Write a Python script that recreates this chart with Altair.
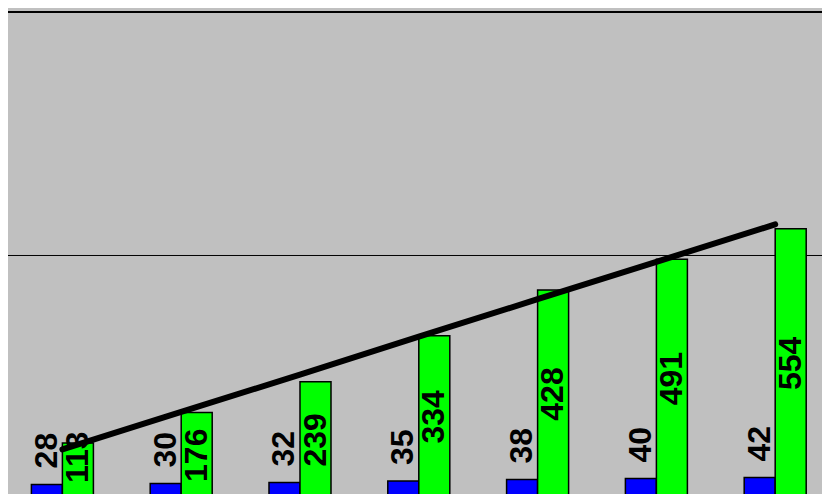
import altair as alt
import pandas as pd

categories = ["1", "2", "3", "4", "5", "6", "7"]
series_names = ["Series A", "Series B"]
series_a = [28, 30, 32, 35, 38, 40, 42]
series_b = [113, 176, 239, 334, 428, 491, 554]
trend = [100, 177, 254, 332, 409, 486, 563]
bar_colors = ["#0000ff", "#00ff00"]

rows = []
for c, a, b in zip(categories, series_a, series_b):
    rows.append({"cat": c, "series": series_names[0], "value": a})
    rows.append({"cat": c, "series": series_names[1], "value": b})
bars_df = pd.DataFrame(rows)
trend_df = pd.DataFrame({"cat": categories, "trend": trend})

x_enc = alt.X("cat:N", sort=categories,
              scale=alt.Scale(paddingInner=0.478, paddingOuter=0.239),
              axis=None)
xo_enc = alt.XOffset("series:N", sort=series_names,
                     scale=alt.Scale(paddingInner=0, paddingOuter=0))
y_scale = alt.Scale(domain=[0, 1000], nice=False, zero=True)

base = alt.Chart(bars_df)

bars = base.mark_bar(stroke="black", strokeWidth=1.5).encode(
    x=x_enc,
    xOffset=xo_enc,
    y=alt.Y("value:Q", scale=y_scale,
            axis=alt.Axis(values=[0, 500, 1000], grid=True, labels=False,
                          ticks=False, domain=False, title=None,
                          gridColor="black", gridOpacity=1, gridWidth=1)),
    color=alt.Color("series:N", sort=series_names,
                    scale=alt.Scale(domain=series_names, range=bar_colors),
                    legend=None),
)

label_font = dict(font="Liberation Sans", fontWeight="bold", fontSize=32,
                  color="black", angle=270)

labels_a = base.transform_filter(
    alt.datum.series == series_names[0]
).mark_text(align="left", baseline="middle", dx=16, **label_font).encode(
    x=x_enc, xOffset=xo_enc,
    y=alt.Y("value:Q", scale=y_scale),
    text=alt.Text("value:Q"),
)

# green labels sit mid-bar, but are kept clear of the bottom edge
labels_b = base.transform_filter(
    alt.datum.series == series_names[1]
).transform_calculate(
    mid="max(datum.value / 2, 84)"
).mark_text(align="center", baseline="middle", **label_font).encode(
    x=x_enc, xOffset=xo_enc,
    y=alt.Y("mid:Q", scale=y_scale),
    text=alt.Text("value:Q"),
)

line = alt.Chart(trend_df).mark_line(
    color="black", strokeWidth=6, strokeCap="round", strokeJoin="round"
).encode(
    x=x_enc,
    y=alt.Y("trend:Q", scale=y_scale),
)

chart = alt.layer(bars, labels_a, labels_b, line).properties(
    width=831.6,
    height=486,
    autosize=alt.AutoSizeParams(type="none"),
    padding={"left": -5, "top": 4, "right": -13, "bottom": -4},
    background="#c0c0c0",
).configure_view(
    stroke="black", strokeWidth=2, fill="#c0c0c0"
)

chart.save("out.html", embed_options={"renderer": "svg", "actions": False})
